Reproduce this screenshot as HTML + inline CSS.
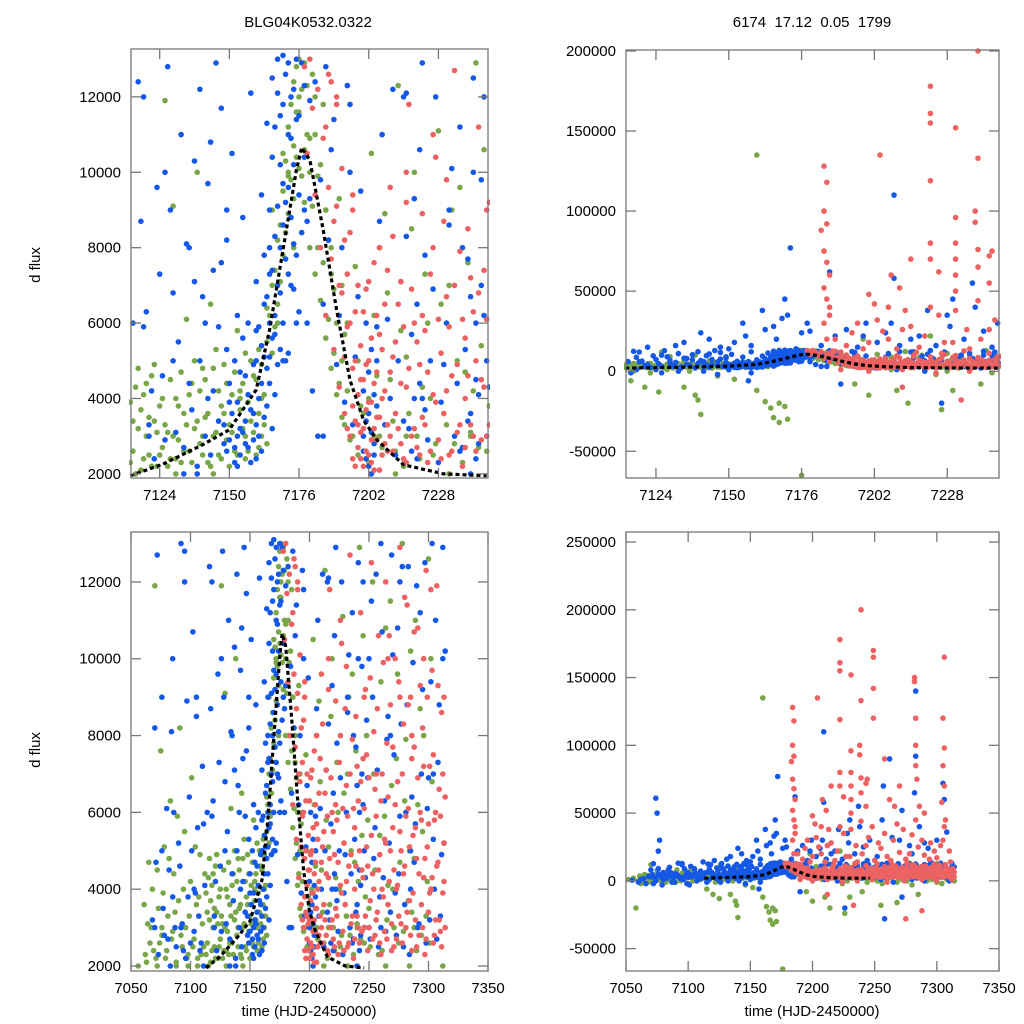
<!DOCTYPE html>
<html><head><meta charset="utf-8">
<style>
html,body{margin:0;padding:0;background:#fff;overflow:hidden;width:1024px;height:1024px;}
svg{display:block;font-family:"Liberation Sans",sans-serif;}
</style></head>
<body>
<svg id="chart" width="1024" height="1024" viewBox="0 0 1024 1024">
<text x="308" y="27" font-size="15" text-anchor="middle">BLG04K0532.0322</text>
<text x="812" y="27" font-size="15" text-anchor="middle" style="white-space:pre">6174  17.12  0.05  1799</text>
<text transform="translate(40,265) rotate(-90)" font-size="15" text-anchor="middle">d flux</text>
<text transform="translate(40,750) rotate(-90)" font-size="15" text-anchor="middle">d flux</text>
<text x="309" y="1016" font-size="15" text-anchor="middle">time (HJD-2450000)</text>
<text x="812" y="1016" font-size="15" text-anchor="middle">time (HJD-2450000)</text>
</svg>
<script>
const blueData=[[7062,1],[7066,-2],[7070,3],[7074,0],[7076,5],[7079,-3],[7083,2],[7086,6],[7089,-1],[7092,3],[7096,1],[7099,-2],[7103,4],[7107,0],[7111,2],[7114,6],[7117,1],[7120,3],[7126,-1],[7129,5],[7132,0],[7135,8],[7138,2],[7142,4],[7146,-2],[7149,9],[7153,3],[7157,-6],[7160,5],
[7074,61],[7075,50],[7077,30],[7076,22],[7121,15],[7134,18],[7143,20],[7150,14],[7156,22],[7162,38],[7166,28],[7170,45],[7172,77],[7171,35],[7179,25],[7186,62],[7192,26],[7198,22],[7209,110],[7209,58],[7208,30],[7215,20],[7228,35],[7237,55],[7238,40],[7246,30],[7257,70],[7262,90],[7256,45],[7272,52],[7283,140],[7283,92],[7282,65],[7290,28],[7305,72],[7306,60],[7230,45],[7221,38],
[7165,8],[7175,6],[7185,3],[7195,10],[7205,5],[7215,12],[7222,4],[7232,9],[7242,6],[7250,10],[7260,3],[7268,8],[7276,12],[7285,5],[7295,14],[7304,7],[7312,10],[7190,-8],[7272,-12],[7258,-28],[7226,-20],
[7068,3.2],[7072,12.7],[7078,2.8],[7082,4.5],[7085,3.8],[7088,2.5],[7090,5.2],[7093,3.1],[7095,12.8],[7097,8.9],[7099,6.4],[7100,2.6],[7102,10.7],[7104,3.9],[7106,5.6],[7108,2.4],[7110,7.2],[7112,4.1],[7070,8.2],[7080,6.1],[7092,13],[7096,2.2],
[7116,12.4],[7118,5.9],[7120,3.3],[7122,2.4],[7124,7.3],[7125,4.6],[7127,12.8],[7128,9.0],[7130,3.1],[7131,5.5],[7133,2.7],[7134,8.1],[7136,3.7],[7137,10.3],[7138,2.2],[7139,5.0],[7140,6.7],
[7141,3.0],[7142,9.7],[7143,2.5],[7144,4.2],[7145,12.9],[7146,3.4],[7147,7.6],[7148,2.8],[7149,5.3],[7150,3.9],[7151,10.5],[7152,2.3],[7153,6.2],[7154,3.2],[7155,8.8],[7156,4.6],[7157,2.7],[7158,12.1],[7159,3.6],[7160,5.8],[7160,7.1],[7161,4.0],[7162,9.4],[7162,5.4],[7163,3.5],[7163,6.5],[7164,4.8],[7164,11.3],[7165,5.1],[7165,6.0],
[7166,7.4],[7166,12.5],[7167,8.3],[7167,5.7],[7168,9.1],[7168,13],[7169,6.8],[7169,10.2],[7170,8.6],[7170,11.8],[7171,7.7],[7171,12.6],[7172,9.6],[7172,5.2],[7173,10.9],[7173,7.0],[7174,12.2],[7174,8.1],[7175,11.4],[7176,9.4],[7176,6.3],[7177,12.9],[7178,10.4],[7179,8.7],[7180,11.9],[7181,4.2],[7182,12.4],[7183,3.0],[7184,9.8],[7185,6.5],[7186,12.8],
[7188,10.6],[7190,4.9],[7192,8.0],[7194,12.3],[7196,3.3],[7198,6.7],[7200,2.6],[7201,3.4],[7202,2.2],[7202,4.7],[7203,3.1],[7203,2.0],[7204,2.8],[7205,3.8],[7205,5.9],[7207,11.0],[7210,4.0],[7212,2.5],[7214,7.1],[7216,12.1],[7217,3.2],[7218,5.7],[7219,9.3],[7220,2.4],[7221,4.4],[7222,12.9],[7223,3.7],[7226,6.9],[7228,2.3],[7230,4.9],[7232,8.6],[7234,3.0],[7236,11.2],[7237,2.7],[7238,5.3],[7239,7.7],[7240,3.6],[7241,12.5],[7242,2.4],[7243,4.1],[7244,9.8],[7245,6.2],[7246,3.0],
[7248,8.4],[7250,3.0],[7252,11.5],[7255,5.6],[7258,2.5],[7260,13],[7262,4.3],[7265,7.9],[7268,3.4],[7270,10.1],[7273,2.8],[7276,5.9],[7278,12.4],[7280,3.6],[7282,8.8],[7284,2.3],[7286,6.4],[7288,4.7],[7290,11.9],[7292,3.1],[7295,9.2],[7298,2.6],[7300,6.9],[7303,13],[7305,4.0],[7308,7.3],[7310,3.3],[7312,12.9],[7313,5.2]];

const blueExtra=[[7148,3.3],[7149,2.6],[7150,4.4],[7150,2.9],[7151,3.6],[7152,5.0],[7152,2.7],[7153,3.9],[7153,2.2],[7154,4.7],[7154,2.5],[7155,3.1],[7155,5.6],[7156,2.8],[7156,3.4],[7157,4.1],[7157,6.0],[7158,2.3],[7158,3.7],[7159,4.9],[7159,2.9],[7160,3.3],[7160,2.4],[7161,5.9],[7161,3.0],[7162,4.4],[7162,2.6],[7163,5.1],[7163,7.8],[7164,3.8],[7164,6.7],[7165,4.4],[7165,7.3],[7165,9.0],[7166,5.6],[7166,3.2],[7166,10.4],[7167,6.2],[7167,4.1],[7167,11.2],[7168,7.0],[7168,4.9],[7168,12.1],[7169,5.3],[7169,8.0],[7169,11.5],[7170,6.0],[7170,9.7],[7170,13.1],[7171,5.0],[7171,9.2],[7172,7.3],[7172,11.0],[7172,12.9],[7173,8.8],[7173,12.0],[7174,6.9],[7174,10.2],[7175,7.8],[7175,13.0],[7176,11.5],[7177,8.4],[7178,12.3],[7179,6.0],[7180,9.3],
[7117,8.7],[7119,6.3],[7121,4.2],[7123,9.6],[7126,2.9],[7129,6.8],[7132,11.0],[7135,4.4],[7137,7.1],[7139,12.2],[7141,6.0],[7143,10.8],[7144,7.4],[7146,5.9],[7147,11.7],[7149,8.2],
[7187,8.2],[7189,11.4],[7191,6.2],[7193,3.9],[7195,11.8],[7197,5.1],[7199,9.5],[7200,4.2],[7201,2.4],[7201,6.0],[7202,3.6],[7203,5.3],[7204,2.5],[7204,4.1],[7206,8.7],[7208,3.3],[7209,6.1],[7211,12.2],[7213,5.0],[7215,3.4],[7216,8.3],[7218,2.6],[7219,4.0],[7220,6.5],[7221,10.6],[7223,7.8],[7224,2.9],[7225,5.0],[7227,12.0],[7229,3.9],[7231,6.0],[7233,10.1],[7235,4.4],[7236,2.6],[7237,8.0],[7239,3.4],[7240,6.7],[7241,10.0],[7242,4.5],[7243,2.8],[7244,7.0],[7245,12.0],[7246,5.0],
[7247,4.3],[7249,6.9],[7251,2.7],[7253,9.0],[7254,4.8],[7256,12.2],[7257,7.1],[7259,3.8],[7261,10.7],[7263,6.3],[7264,2.9],[7266,8.5],[7267,5.2],[7269,12.7],[7271,7.5],[7272,3.9],[7274,10.8],[7275,4.4],[7277,8.3],[7279,2.5],[7281,6.0],[7283,12.4],[7285,4.0],[7287,9.9],[7289,5.7],[7291,3.0],[7293,11.2],[7294,7.0],[7296,4.3],[7297,12.5],[7299,6.1],[7301,3.2],[7302,9.4],[7304,5.3],[7306,11.0],[7307,2.7],[7309,8.8],[7311,4.9],[7314,10.2],
[7071,4.7],[7073,2.3],[7076,9.0],[7077,3.5],[7081,2.7],[7084,8.1],[7087,3.0],[7091,4.6],[7094,2.4],[7098,3.8],[7101,5.0],[7103,2.9],[7105,8.5],[7107,3.3],[7109,2.6],[7111,5.7],
[7118,12],[7126,10],[7131,16],[7140,24],[7147,15],[7152,18],[7155,30],[7158,16],[7163,26],[7167,20],[7169,33],[7174,14],[7176,24],[7178,30],[7183,16],[7188,22],[7196,15],[7199,30],[7203,18],[7206,24],[7211,16],[7218,22],[7224,16],[7229,28],[7234,20],[7241,25],[7244,15],[7252,18],[7264,32],[7278,26],[7286,40],[7293,24],[7300,30],[7308,36],[7280,20],[7270,30],[7095,12],[7085,10],[7105,9],[7112,14],
[7055,0.5],[7060,-1],[7064,1.5],[7072,-2],[7080,1],[7087,-1],[7094,1.5],[7101,-3],[7108,1],[7115,-1],[7124,1],[7133,2],[7141,0],[7150,1],[7158,-1],[7170,5],[7178,9],[7200,3],[7210,1],[7220,0],[7240,2],[7255,1],[7265,-1],[7280,1],[7290,0],[7300,1],[7310,0]];

const greenData=[[7052,1],[7056,2],[7060,0],[7064,1],[7068,-1],[7072,2],[7078,0],[7084,1],[7090,-1],[7098,2],[7104,0],[7110,1],[7116,0],[7122,-1],[7128,1],[7136,0],[7144,2],[7150,1],[7156,3],[7162,4],[7168,6],[7174,8],[7180,10],[7186,9],[7192,7],[7198,5],[7204,3],[7212,2],[7220,1],[7228,0],[7236,1],[7244,-1],[7252,0],[7260,1],[7268,-1],[7276,0],[7284,2],[7292,0],[7300,-1],[7308,1],[7314,0],
[7058,-20],[7115,-6],[7120,-10],[7125,-13],[7134,-10],[7138,-15],[7139,-18],[7140,-27],[7152,-5],[7160,-12],[7163,-19],[7165,-23],[7166,-29],[7168,-32],[7170,-22],[7171,-30],[7176,-65],[7168,-20],[7195,-8],[7200,-15],[7210,-12],[7214,-20],[7226,-24],[7230,-12],[7240,-8],[7255,-18],[7268,-16],[7285,-10],[7160,135],[7222,22],[7198,20],[7302,10],[7302,4],
[7062,2.3],[7064,3.1],[7066,2.6],[7068,4.0],[7070,11.9],[7071,2.2],[7073,3.5],[7075,7.6],[7076,2.8],[7078,5.1],[7080,2.4],[7081,3.3],[7083,6.3],[7085,2.9],[7086,4.4],[7088,2.1],[7090,3.7],[7091,8.2],[7093,2.5],[7095,5.5],[7096,3.0],[7098,2.3],[7100,4.2],[7101,6.9],[7103,2.7],[7105,3.6],[7106,2.2],[7108,4.9],[7110,3.1],[7111,2.5],
[7113,3.9],[7114,2.6],[7115,4.3],[7116,3.2],[7117,2.1],[7118,4.1],[7119,3.0],[7120,2.5],[7121,4.6],[7122,3.4],[7123,2.2],[7124,3.8],[7125,2.7],[7126,11.9],[7127,3.1],[7128,2.4],[7129,9.1],[7130,4.0],[7131,2.9],[7132,2.3],[7133,3.6],[7134,6.1],[7135,2.6],[7136,4.4],[7137,3.2],[7138,10.0],[7139,2.8],[7140,4.8],[7141,3.5],[7142,2.3],[7143,6.5],[7144,3.0],[7145,5.3],[7146,2.5],[7147,3.8],[7148,4.9],[7149,2.9],[7150,3.3],[7151,4.1],[7152,2.6],[7153,5.8],[7154,3.7],[7155,4.4],[7156,2.4],[7157,3.9],[7158,5.0],[7159,3.1],[7160,4.5],[7161,3.6],[7161,2.7],[7162,4.9],[7163,3.3],[7164,5.5],
[7165,6.2],[7166,5.2],[7167,7.4],[7168,6.5],[7169,8.6],[7170,7.8],[7170,9.5],[7171,10.3],[7172,8.9],[7172,11.2],[7173,9.8],[7174,12.4],[7174,10.7],[7175,11.6],[7176,13.0],[7176,10.1],[7177,12.2],[7178,9.2],[7178,12.9],[7179,11.0],[7180,8.0],[7181,12.6],[7182,7.3],[7183,9.9],[7184,6.6],[7185,11.8],[7186,5.6],[7187,8.2],[7188,4.8],[7189,6.9],[7190,4.1],[7191,9.3],[7192,3.5],[7193,5.7],
[7195,2.9],[7197,7.5],[7199,3.8],[7201,2.4],[7203,10.5],[7205,4.6],[7207,2.7],[7209,6.8],[7211,3.4],[7213,12.3],[7215,2.2],[7216,5.1],[7218,8.5],[7220,3.0],[7222,4.3],[7224,6.0],[7226,2.5],[7228,11.1],[7230,3.6],[7232,7.0],[7234,2.8],[7236,9.6],[7238,4.7],[7240,3.1],[7242,12.9],[7244,5.4],[7246,2.6],[7248,8.0],[7250,3.5],[7253,12.0],[7255,4.5],[7258,2.3],[7260,9.4],[7263,5.9],[7265,3.2],[7268,11.5],[7270,4.0],[7273,7.4],[7275,2.6],[7278,13.0],[7280,6.3],[7283,3.7],[7285,10.2],[7288,4.8],[7290,2.4],[7293,8.7],[7295,5.5],[7298,3.3],[7300,12.6],[7303,6.8]];

const greenExtra=[[7061,3.6],[7063,2.1],[7065,4.7],[7067,3.0],[7069,2.4],[7072,4.5],[7074,2.6],[7077,3.9],[7079,2.2],[7082,4.8],[7084,2.7],[7087,3.4],[7089,5.9],[7092,2.8],[7094,4.0],[7097,2.2],[7099,3.3],[7102,2.5],[7104,5.1],[7107,3.8],[7109,2.3],[7112,4.4],
[7113,2.3],[7114,3.4],[7115,2.0],[7116,4.8],[7117,3.7],[7118,2.4],[7119,4.4],[7120,3.5],[7121,2.2],[7122,4.9],[7123,3.1],[7124,2.5],[7125,4.0],[7126,3.3],[7127,2.2],[7128,4.5],[7129,3.0],[7130,2.4],[7131,3.8],[7132,4.7],[7133,2.6],[7134,3.3],[7135,4.1],[7136,2.3],[7137,5.0],[7138,3.4],[7139,4.2],[7140,2.5],[7141,4.5],[7142,3.6],[7143,2.2],[7144,4.8],[7145,3.1],[7146,4.2],[7147,2.4],[7148,3.6],[7149,4.4],[7150,2.2],[7151,3.1],[7152,4.7],[7153,2.5],[7154,4.2],[7155,3.2],[7156,5.2],[7157,2.6],[7158,3.4],[7159,4.6],[7160,2.5],[7161,5.3],[7162,3.0],[7163,4.1],[7164,2.8],[7164,6.4],
[7166,7.0],[7167,5.9],[7168,8.2],[7169,7.1],[7170,10.5],[7171,8.4],[7172,9.9],[7173,11.8],[7174,9.3],[7175,10.4],[7175,12.8],[7176,11.6],[7177,9.9],[7178,10.6],[7179,12.3],[7180,10.9],[7181,9.1],[7182,11.0],[7183,8.0],[7184,10.2],[7185,7.6],[7186,9.0],[7187,6.1],[7188,7.3],[7189,5.2],[7190,6.0],[7191,4.4],[7192,5.0],[7193,3.3],[7194,4.2],[7196,3.0],[7198,2.5],[7200,3.6],[7202,2.3],
[7204,6.2],[7206,3.0],[7208,8.9],[7210,4.5],[7212,2.6],[7214,5.8],[7217,3.6],[7219,10.0],[7221,2.4],[7223,7.3],[7225,4.0],[7227,2.8],[7229,6.5],[7231,3.3],[7233,9.0],[7235,5.0],[7237,2.3],[7239,7.6],[7241,4.2],[7243,2.7],[7245,10.6],[7247,3.8],[7249,5.8],[7251,2.5],[7254,7.0],[7256,3.2],[7259,5.4],[7261,2.4],[7264,10.8],[7266,4.1],[7269,6.7],[7271,3.0],[7274,9.6],[7276,4.7],[7279,2.9],[7281,7.9],[7284,5.0],[7286,3.4],[7289,11.0],[7291,6.2],[7294,2.8],[7296,8.0],[7299,4.2],[7301,2.6],
[7130,2],[7140,3],[7146,-3],[7154,4],[7166,9],[7172,10],[7176,12],[7182,12],[7188,8],[7194,6],[7202,4],[7208,1],[7216,3],[7224,-2],[7232,2],[7240,3],[7248,1],[7256,-2],[7264,2],[7272,1],[7280,-3],[7288,3],[7296,1],[7304,-2],[7312,2],[7062,-2],[7070,1],[7076,3],[7082,-1],[7088,2],[7094,0],[7100,-2],[7106,2]];

const redData=[[7184,128],[7185,118],[7184,100],[7185,92],[7183,88],[7184,75],[7185,68],[7186,60],[7184,52],[7185,45],[7186,40],[7200,48],[7202,42],[7204,135],[7207,40],[7208,60],[7211,52],[7213,38],[7215,70],[7222,178],[7222,161],[7222,155],[7222,119],[7222,80],[7222,70],[7225,62],[7231,152],[7231,96],[7231,80],[7231,70],[7231,60],[7231,50],[7238,100],[7238,93],[7239,200],[7239,133],[7239,76],[7239,65],[7243,55],[7243,72],[7244,75],[7249,258],[7249,170],[7249,165],[7249,142],[7249,120],[7258,90],[7262,60],[7266,55],[7270,70],[7273,38],[7282,150],[7282,147],[7283,120],[7283,100],[7283,85],[7284,75],[7286,55],[7290,50],[7306,165],[7305,120],[7306,98],[7305,85],[7306,70],[7304,58],[7307,45],[7233,-18],[7288,-22],[7275,-28],[7212,-10],
[7188,20],[7192,16],[7196,30],[7200,18],[7205,25],[7210,14],[7215,28],[7220,22],[7225,35],[7230,18],[7235,26],[7240,20],[7245,32],[7250,15],[7255,24],[7260,18],[7265,30],[7270,21],[7275,16],[7280,34],[7285,25],[7290,19],[7295,28],[7300,17],[7305,30],[7310,22],
[7190,1],[7200,0],[7212,1],[7224,-1],[7236,0],[7248,1],[7260,-1],[7274,0],[7288,1],[7300,0],[7312,1],
[7178,12.8],[7179,10.5],[7180,13.0],[7181,11.7],[7182,9.4],[7183,12.2],[7184,8.0],[7185,10.9],[7186,6.2],[7187,12.6],[7188,7.7],[7189,5.3],[7190,9.1],[7191,4.3],[7192,6.8],[7193,3.6],[7194,5.9],[7195,8.4],[7195,3.0],[7196,4.8],[7196,2.4],[7197,6.3],[7197,3.4],[7198,4.1],[7198,2.7],[7199,5.4],[7199,3.1],[7200,2.2],[7200,4.5],[7201,6.9],[7201,3.7],[7202,2.5],[7202,5.0],[7203,3.9],[7203,2.3],[7204,4.4],[7204,7.6],[7205,2.9],[7205,3.5],[7206,5.7],[7206,2.1],[7207,4.0],[7208,6.5],[7208,2.8],[7209,3.3],[7210,9.6],[7210,4.7],[7211,2.6],[7212,5.5],[7213,3.2],[7214,7.1],[7215,2.4],[7216,4.3],[7217,11.8],[7218,3.0],[7219,6.0],[7220,2.7],[7221,4.9],[7222,8.9],[7222,3.5],[7223,5.8],[7224,2.3],[7225,7.3],[7226,4.1],[7227,10.4],[7228,2.9],[7229,5.2],[7230,3.6],[7231,6.7],[7231,9.8],[7232,2.5],[7233,4.6],[7234,12.7],[7235,3.1],[7236,7.9],[7237,2.2],[7238,5.6],[7238,4.0],[7239,8.5],[7240,3.3],[7241,6.3],[7242,2.6],[7243,11.2],[7244,4.5],[7245,7.4],[7246,3.0],[7247,9.2],[7248,5.1],[7249,2.4],[7250,6.9],[7251,3.7],[7252,12.5],[7253,4.4],[7254,8.1],[7255,2.8],[7256,5.9],[7257,3.4],[7258,10.6],[7259,4.9],[7260,2.3],[7261,7.0],[7262,3.8],[7263,5.3],[7264,12.0],[7265,2.7],[7266,6.4],[7267,4.2],[7268,8.8],[7269,3.1],[7270,5.6],[7271,2.5],[7272,10.0],[7273,4.0],[7274,6.8],[7275,3.3],[7276,12.9],[7277,5.0],[7278,2.6],[7279,8.3],[7280,4.6],[7281,3.0],[7282,11.4],[7283,6.1],[7284,3.7],[7285,9.0],[7286,2.4],[7287,5.4],[7288,7.7],[7289,3.2],[7290,4.8],[7291,10.8],[7292,2.8],[7293,6.0],[7294,3.6],[7295,8.2],[7296,4.3],[7297,2.3],[7298,12.3],[7299,5.1],[7300,3.4],[7301,7.2],[7302,4.0],[7303,9.7],[7304,2.6],[7305,5.8],[7306,3.2],[7307,11.9],[7308,4.7],[7309,6.6],[7310,2.9],[7311,8.6],[7312,3.9],[7313,5.2],[7314,3.0]];

const redExtra=[[7186,11.2],[7187,9.6],[7188,12.4],[7189,8.7],[7190,11.8],[7191,7.0],[7192,10.1],[7193,8.2],[7193,5.1],[7194,7.3],[7194,3.2],[7195,6.0],[7196,9.4],[7196,3.8],[7197,5.0],[7197,2.2],[7198,7.0],[7198,3.3],[7199,2.4],[7199,4.5],[7200,6.3],[7200,3.2],[7201,2.6],[7201,4.9],[7202,3.9],[7202,7.1],[7203,2.9],[7203,5.6],[7204,3.2],[7204,2.1],[7205,4.7],[7205,6.2],[7206,3.5],[7206,8.0],[7207,2.5],[7207,5.3],[7208,4.2],[7209,2.6],[7209,7.4],[7210,3.0],[7211,5.1],[7211,8.3],[7212,3.6],[7213,6.5],[7214,2.8],[7214,4.4],[7215,5.9],[7216,2.3],[7216,9.2],[7217,4.8],[7218,6.9],[7219,3.2],[7220,5.5],[7221,2.5],[7222,6.2],[7223,3.3],[7224,4.7],[7225,2.6],[7226,8.0],[7227,3.9],[7228,6.1],[7229,2.4],[7230,8.7],[7231,4.2],[7232,5.9],[7233,2.6],[7234,7.0],[7235,4.9],[7236,3.3],[7237,6.1],[7238,2.7],[7239,4.6],[7240,7.2],[7241,3.0],[7242,5.0],[7243,6.8],[7244,2.9],[7245,4.3],[7246,6.1],[7247,3.3],[7248,7.5],[7249,4.6],[7250,3.0],[7251,9.5],[7252,5.4],[7253,2.7],[7254,4.0],[7255,6.6],[7256,3.2],[7257,8.7],[7258,4.5],[7259,2.6],[7260,6.3],[7261,4.0],[7262,9.9],[7263,2.9],[7264,5.2],[7265,7.8],[7266,3.6],[7267,10.6],[7268,5.0],[7269,2.4],[7270,7.7],[7271,4.5],[7272,6.2],[7273,2.7],[7274,4.1],[7275,9.4],[7276,5.5],[7277,3.1],[7278,7.0],[7279,4.4],[7280,11.6],[7281,5.9],[7282,3.4],[7283,8.8],[7284,5.1],[7285,2.8],[7286,7.4],[7287,3.9],[7288,10.7],[7289,5.6],[7290,2.5],[7291,6.9],[7292,4.4],[7293,9.3],[7294,5.8],[7295,3.0],[7296,7.2],[7297,4.8],[7298,2.7],[7299,9.0],[7300,5.7],[7301,3.9],[7302,11.8],[7303,4.3],[7304,7.5],[7305,2.8],[7306,6.0],[7307,4.6],[7308,9.3],[7309,3.2],[7310,5.9],[7311,2.5],[7312,7.0],[7313,4.2],[7314,6.4],
[7184,30],[7185,20],[7186,35],[7190,12],[7194,24],[7198,14],[7203,32],[7207,20],[7212,26],[7218,15],[7222,40],[7227,18],[7231,38],[7236,14],[7239,44],[7243,26],[7248,40],[7253,28],[7258,35],[7263,15],[7268,42],[7278,20],[7283,45],[7288,30],[7294,16],[7298,22],[7303,26],[7306,40],[7311,14],[7313,9],[7196,9],[7206,8],[7216,10],[7226,11],[7246,9],[7256,7],[7266,10],[7276,9],[7286,8],[7296,10]];

const modelT=[7113,7125,7140,7150,7160,7165,7170,7175,7177,7180,7185,7190,7195,7200,7205,7215,7230,7246];
const modelF=[1950,2250,2770,3170,4230,5820,7940,10060,10650,10330,8470,6350,4490,3430,2900,2240,2000,1950];

const xTicksTop=[7124,7150,7176,7202,7228];
const xTicksBottom=[7050,7100,7150,7200,7250,7300,7350];
const yTicksLeft=[2000,4000,6000,8000,10000,12000];
const yTicksTopRight=[-50000,0,50000,100000,150000,200000];
const yTicksBottomRight=[-50000,0,50000,100000,150000,200000,250000];

const NS='http://www.w3.org/2000/svg';
const svg=document.getElementById('chart');
function mk(tag,attrs,parent){const e=document.createElementNS(NS,tag);for(const k in attrs)e.setAttribute(k,attrs[k]);(parent||svg).appendChild(e);return e;}

const panels=[
 {id:'top-left',x0:131,x1:488,y0:49,y1:478,xd:[7113.3,7246.5],yd:[1890,13270],xt:xTicksTop,yt:yTicksLeft},
 {id:'top-right',x0:626,x1:999,y0:50,y1:478,xd:[7113.3,7246.5],yd:[-66700,200600],xt:xTicksTop,yt:yTicksTopRight},
 {id:'bottom-left',x0:131,x1:488,y0:532,y1:971,xd:[7050,7350],yd:[1870,13300],xt:xTicksBottom,yt:yTicksLeft},
 {id:'bottom-right',x0:626,x1:999,y0:532,y1:971,xd:[7050,7350],yd:[-66500,257400],xt:xTicksBottom,yt:yTicksBottomRight}
];
const defs=mk('defs',{});
panels.forEach(p=>{
 const sx=t=>p.x0+(t-p.xd[0])/(p.xd[1]-p.xd[0])*(p.x1-p.x0);
 const sy=f=>p.y1-(f-p.yd[0])/(p.yd[1]-p.yd[0])*(p.y1-p.y0);
 const cp=mk('clipPath',{id:'clip-'+p.id},defs);
 mk('rect',{x:p.x0-2,y:p.y0-2,width:p.x1-p.x0+4,height:p.y1-p.y0+4},cp);
 const g=mk('g',{'clip-path':'url(#clip-'+p.id+')'});
 
 
 const series=[[greenData.concat(greenExtra),'#7aa64a','green'],[blueData.concat(blueExtra),'#1558e8','blue'],[redData.concat(redExtra),'#ec6262','red']];
 series.forEach(([data,col,nm])=>{
  const sg=mk('g',{fill:col},g);
  
  
  data.forEach(d=>{
   const f=d[1]*1000;
   if(d[0]<p.xd[0]-1||d[0]>p.xd[1]+1||f<p.yd[0]-100||f>p.yd[1]+100) return;
   const c=mk('circle',{cx:sx(d[0]).toFixed(1),cy:sy(f).toFixed(1),r:2.8},sg);
   
   
  });
 });
 let dpath='';
 modelT.forEach((t,i)=>{dpath+=(i?'L':'M')+sx(t).toFixed(1)+','+sy(modelF[i]).toFixed(1);});
 const ml=mk('path',{d:dpath,fill:'none',stroke:'#000','stroke-width':3.2,'stroke-dasharray':'4,3'},g);
 
 
 const fr=mk('rect',{x:p.x0,y:p.y0,width:p.x1-p.x0,height:p.y1-p.y0,fill:'none',stroke:'#777','stroke-width':1.3});
 
 
 p.xt.forEach(t=>{
  const x=sx(t);
  mk('line',{x1:x,x2:x,y1:p.y1,y2:p.y1-10,stroke:'#777','stroke-width':1.3});
  mk('line',{x1:x,x2:x,y1:p.y0,y2:p.y0+10,stroke:'#777','stroke-width':1.3});
  const tx=mk('text',{x:x,y:p.y1+22,'font-size':15,'text-anchor':'middle'});
  tx.textContent=t;
  
  
 });
 p.yt.forEach(v=>{
  const y=sy(v);
  mk('line',{x1:p.x0,x2:p.x0+10,y1:y,y2:y,stroke:'#777','stroke-width':1.3});
  mk('line',{x1:p.x1,x2:p.x1-10,y1:y,y2:y,stroke:'#777','stroke-width':1.3});
  const ty=mk('text',{x:p.x0-10,y:y+5,'font-size':15,'text-anchor':'end'});
  ty.textContent=v;
  
  
 });
});
</script>
</body></html>
